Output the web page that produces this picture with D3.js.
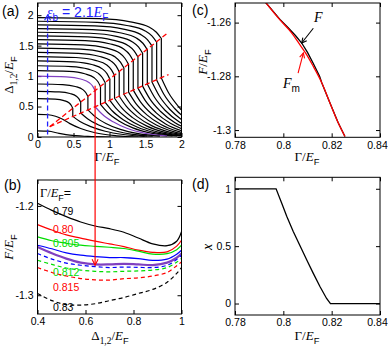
<!DOCTYPE html>
<html>
<head>
<meta charset="utf-8">
<script src="https://cdn.jsdelivr.net/npm/d3@7"></script>
<style>
  body { margin: 0; background: #fff; }
  svg { display: block; font-family: "Liberation Sans", Arial, sans-serif; }
  .tick text { font-size: 10.5px; fill: #000; }
  .tick line { stroke: #000; }
</style>
</head>
<body>
<svg id="fig" width="388" height="347"></svg>
<script>
// ---- panel (a): gap curves Delta_{1,2}/E_F vs Gamma/E_F
// upper branch of each curve (before the jump), [Gamma, Delta]
const upperA = [
  [[0,1.96],[0.86,1.943],[1.29,1.891],[1.548,1.806],[1.651,1.72],[1.72,1.617]],
  [[0,1.90],[0.828,1.883],[1.241,1.831],[1.49,1.745],[1.589,1.659],[1.655,1.556]],
  [[0,1.84],[0.795,1.823],[1.193,1.771],[1.431,1.685],[1.526,1.599],[1.59,1.496]],
  [[0,1.78],[0.763,1.763],[1.144,1.711],[1.373,1.625],[1.464,1.539],[1.525,1.435]],
  [[0,1.72],[0.73,1.703],[1.095,1.651],[1.314,1.564],[1.402,1.478],[1.46,1.374]],
  [[0,1.66],[0.698,1.643],[1.046,1.591],[1.256,1.504],[1.339,1.418],[1.395,1.314]],
  [[0,1.60],[0.665,1.583],[0.998,1.531],[1.197,1.444],[1.277,1.357],[1.33,1.253]],
  [[0,1.53],[0.633,1.513],[0.949,1.462],[1.139,1.378],[1.214,1.293],[1.265,1.192]],
  [[0,1.46],[0.60,1.444],[0.90,1.394],[1.08,1.312],[1.152,1.23],[1.20,1.132]],
  [[0,1.39],[0.568,1.374],[0.851,1.326],[1.022,1.246],[1.09,1.167],[1.135,1.071]],
  [[0,1.32],[0.535,1.305],[0.803,1.258],[0.963,1.181],[1.027,1.103],[1.07,1.01]],
  [[0,1.25],[0.503,1.235],[0.754,1.19],[0.905,1.115],[0.965,1.04],[1.005,0.95]],
  [[0,1.17],[0.47,1.156],[0.705,1.114],[0.846,1.044],[0.902,0.973],[0.94,0.889]],
  [[0,1.09],[0.438,1.077],[0.656,1.038],[0.788,0.972],[0.84,0.907],[0.875,0.828]],
  [[0,1.00],[0.40,0.988],[0.60,0.952],[0.72,0.891],[0.768,0.831],[0.80,0.758]],
  [[0,0.87],[0.35,0.86],[0.525,0.829],[0.63,0.778],[0.672,0.727],[0.70,0.665]],
  [[0,0.75],[0.30,0.741],[0.45,0.714],[0.54,0.67],[0.576,0.625],[0.60,0.572]],
  [[0,0.63],[0.245,0.622],[0.368,0.598],[0.441,0.558],[0.47,0.517],[0.49,0.469]],
  [[0,0.37],[0.15,0.365],[0.25,0.34],[0.35,0.29],[0.45,0.22],[0.6,0.14],[0.8,0.07],[1.1,0.02],[1.4,0]],
  [[0,0.10],[0.15,0.095],[0.3,0.06],[0.45,0.03],[0.7,0.01],[1.0,0]]
];
// lower branch after the jump (null = no jump)
const lowerA = [
  [[1.72,0.968],[1.82,0.726],[1.97,0.484],[2.17,0.271]],
  [[1.655,0.935],[1.755,0.701],[1.905,0.468],[2.105,0.262]],
  [[1.59,0.902],[1.69,0.677],[1.84,0.451],[2.04,0.253],[2.29,0.108]],
  [[1.525,0.869],[1.625,0.652],[1.775,0.435],[1.975,0.243],[2.225,0.104]],
  [[1.46,0.835],[1.56,0.626],[1.71,0.418],[1.91,0.234],[2.16,0.10]],
  [[1.395,0.802],[1.495,0.602],[1.645,0.401],[1.845,0.225],[2.095,0.096]],
  [[1.33,0.769],[1.43,0.577],[1.58,0.385],[1.78,0.215],[2.03,0.092]],
  [[1.265,0.736],[1.365,0.552],[1.515,0.368],[1.715,0.206],[1.965,0.088],[2.265,0.022]],
  [[1.2,0.702],[1.3,0.527],[1.45,0.351],[1.65,0.197],[1.9,0.084],[2.2,0.021]],
  [[1.135,0.669],[1.235,0.502],[1.385,0.335],[1.585,0.187],[1.835,0.08],[2.135,0.02]],
  [[1.07,0.636],[1.17,0.477],[1.32,0.318],[1.52,0.178],[1.77,0.076],[2.07,0.019]],
  [[1.005,0.602],[1.105,0.452],[1.255,0.301],[1.455,0.169],[1.705,0.072],[2.005,0.018]],
  [[0.94,0.569],[1.04,0.427],[1.19,0.285],[1.39,0.159],[1.64,0.068],[1.94,0.017]],
  [[0.875,0.536],[0.975,0.402],[1.125,0.268],[1.325,0.15],[1.575,0.064],[1.875,0.016]],
  [[0.8,0.497],[0.9,0.373],[1.05,0.249],[1.25,0.139],[1.5,0.06],[1.8,0.015]],
  [[0.7,0.446],[0.8,0.335],[0.95,0.223],[1.15,0.125],[1.4,0.054],[1.7,0.013]],
  [[0.6,0.395],[0.7,0.296],[0.85,0.198],[1.05,0.111],[1.3,0.047],[1.6,0.012]],
  [[0.49,0.339],[0.59,0.254],[0.74,0.17],[0.94,0.095],[1.19,0.041],[1.49,0.01]],
  null,
  null
];
const purpleCurve = 14;
const jumpUpperLine = [[0.17, 0.17], [1.82, 1.72]];
const jumpLowerLine = [[0.17, 0.17], [1.82, 1.025]];
const ebLine = [[0.14, 0.04], [0.14, 2.0]];
const ticksA = [0, 0.5, 1, 1.5, 2];

// ---- panel (b): F/E_F vs Delta_{1,2}/E_F
const deltaB = [0.40, 0.46, 0.52, 0.58, 0.64, 0.70, 0.76, 0.82, 0.88, 0.94, 0.98, 1.00];
const f079  = [-1.197, -1.205, -1.212, -1.218, -1.2225, -1.2255, -1.2295, -1.236, -1.2425, -1.2445, -1.2395, -1.229];
const f080  = [-1.221, -1.227, -1.2325, -1.236, -1.2395, -1.2425, -1.2455, -1.2495, -1.252, -1.2515, -1.245, -1.2384];
const f0805 = [-1.2347, -1.239, -1.2418, -1.244, -1.2452, -1.2463, -1.2477, -1.2507, -1.254, -1.2535, -1.249, -1.244];
const f0807 = [-1.244, -1.248, -1.2525, -1.2552, -1.2568, -1.2578, -1.2578, -1.259, -1.261, -1.2595, -1.254, -1.2496];
const f081  = [-1.246, -1.253, -1.259, -1.2635, -1.2655, -1.2655, -1.2648, -1.2655, -1.2662, -1.2635, -1.258, -1.2533];
const f0811 = [-1.2533, -1.2595, -1.264, -1.2664, -1.268, -1.269, -1.2685, -1.2688, -1.269, -1.2665, -1.26, -1.2552];
const f0812 = [-1.2608, -1.2655, -1.2695, -1.2718, -1.2732, -1.2738, -1.2732, -1.2728, -1.2718, -1.269, -1.263, -1.2589];
const f0815 = [-1.269, -1.2745, -1.2785, -1.2813, -1.2828, -1.283, -1.2815, -1.2805, -1.2785, -1.2745, -1.267, -1.2627];
const f083  = [-1.298, -1.306, -1.3105, -1.311, -1.3095, -1.306, -1.3025, -1.298, -1.2935, -1.2855, -1.2755, -1.269];
const seriesB = [f079, f080, f0805, f0807, f081, f0811, f0812, f0815, f083];
const colorsB = ["#000", "#ff0000", "#00dd00", "#0000ff", "#8040c0", "#0000ff", "#00dd00", "#ff0000", "#000"];
const dashedB = [false, false, false, false, false, true, true, true, true];
const labelsB = ["0.79", "0.80", "0.805", "0.812", "0.815", "0.83"];
const labelColorsB = ["#000", "#ff0000", "#00dd00", "#00dd00", "#ff0000", "#000"];
const ticksBx = [0.4, 0.6, 0.8, 1];
const ticksBy = [-1.2, -1.3];
// marker: Gamma = 0.80 picked in (a), minimum of F in (b)
const marker = { gamma: 0.80, deltaTop: 0.84, delta: 0.64, f: -1.2664 };

// ---- panel (c): F and F_m vs Gamma
const gammaFm = [0.7924, 0.7986, 0.8035, 0.8069, 0.8097, 0.8124, 0.8159, 0.8193, 0.8227, 0.8255];
const valFm   = [-1.2522, -1.259, -1.2639, -1.2683, -1.272, -1.2763, -1.2824, -1.2899, -1.2973, -1.3024];
const gammaF  = [0.7924, 0.7986, 0.802, 0.805, 0.8076, 0.810, 0.8124, 0.815, 0.8159, 0.8193, 0.8227, 0.8255];
const valF    = [-1.2522, -1.2588, -1.2619, -1.2648, -1.2676, -1.2711, -1.2752, -1.2800, -1.2824, -1.2899, -1.2973, -1.3024];
const arrowF  = [[0.8124, -1.2621], [0.8076, -1.2676]];
const arrowFm = [[0.8061, -1.2788], [0.8083, -1.2713]];
const ticksCx = [0.78, 0.8, 0.82, 0.84];
const ticksCy = [-1.26, -1.28, -1.3];

// ---- panel (d): x vs Gamma
const gammaD = [0.78, 0.797, 0.7993, 0.8014, 0.8041, 0.8069, 0.8097, 0.8124, 0.8152, 0.8179, 0.8195, 0.84];
const valD   = [1, 1, 0.877, 0.76, 0.628, 0.503, 0.38, 0.263, 0.146, 0.044, 0, 0];
const ticksDy = [0, 0.5, 1];

const svg = d3.select("#fig");
const SERIF = "'Liberation Serif','Times New Roman',serif";
let clipN = 0;

function panel(box, xd, yd, xt, yt) {
  const x = d3.scaleLinear().domain(xd).range([box.l, box.r]);
  const y = d3.scaleLinear().domain(yd).range([box.b, box.t]);
  const g = svg.append("g");
  const id = "clip" + (++clipN);
  svg.append("clipPath").attr("id", id).append("rect")
    .attr("x", box.l).attr("y", box.t)
    .attr("width", box.r - box.l).attr("height", box.b - box.t);
  const fmt = d => String(d);
  g.append("g").attr("class", "xax").attr("transform", `translate(0,${box.b})`)
    .call(d3.axisBottom(x).tickValues(xt).tickSize(-4).tickPadding(4).tickFormat(fmt));
  g.append("g").attr("transform", `translate(0,${box.t})`)
    .call(d3.axisTop(x).tickValues(xt).tickSize(-4).tickFormat(""));
  g.append("g").attr("transform", `translate(${box.l},0)`)
    .call(d3.axisLeft(y).tickValues(yt).tickSize(-4).tickPadding(4).tickFormat(fmt));
  g.append("g").attr("transform", `translate(${box.r},0)`)
    .call(d3.axisRight(y).tickValues(yt).tickSize(-4).tickFormat(""));
  g.selectAll(".domain").remove();
  g.selectAll(".tick text").attr("font-family", null);
  const plot = g.append("g").attr("clip-path", `url(#${id})`);
  const over = g.append("g");
  g.append("rect").attr("x", box.l).attr("y", box.t)
    .attr("width", box.r - box.l).attr("height", box.b - box.t)
    .attr("fill", "none").attr("stroke", "#000").attr("stroke-width", 1);
  return { x, y, plot, over, g };
}

function rich(parent, x, y, parts, o = {}) {
  const size = o.size || 13;
  const t = parent.append("text").attr("x", x).attr("y", y)
    .attr("font-size", size).attr("fill", o.color || "#000")
    .attr("text-anchor", o.anchor || "start");
  if (o.rotate) t.attr("transform", `rotate(-90,${x},${y})`);
  let shifted = 0;
  parts.forEach(p => {
    const s = t.append("tspan").text(p.t);
    if (p.serif) s.attr("font-family", SERIF);
    if (p.it) s.attr("font-style", "italic");
    const want = p.sub ? 0.3 * size : 0;
    if (want !== shifted) { s.attr("dy", want - shifted); shifted = want; }
    if (p.sub) s.attr("font-size", 0.72 * size);
  });
  return t;
}

function arrowHead(parent, from, to, color, len = 6, half = 2.8) {
  const dx = to[0] - from[0], dy = to[1] - from[1];
  const L = Math.hypot(dx, dy), ux = dx / L, uy = dy / L;
  const bx = to[0] - ux * len, by = to[1] - uy * len;
  parent.append("path")
    .attr("d", `M${bx - uy * half},${by + ux * half}L${to[0]},${to[1]}L${bx + uy * half},${by - ux * half}`)
    .attr("fill", "none").attr("stroke", color).attr("stroke-width", 1.1);
}

const gammaLabel = [{ t: "Γ/", serif: 1 }, { t: "E", serif: 1, it: 1 }, { t: "F", sub: 1 }];
const deltaLabel = [{ t: "Δ", serif: 1 }, { t: "1,2", serif: 1, sub: 1 }, { t: "/", serif: 1 }, { t: "E", serif: 1, it: 1 }, { t: "F", sub: 1 }];
const fLabel = [{ t: "F", serif: 1, it: 1 }, { t: "/", serif: 1 }, { t: "E", serif: 1, it: 1 }, { t: "F", sub: 1 }];

// ================= panel (a)
const pa = panel({ l: 37.5, r: 181.5, t: 3, b: 137 }, [0, 2], [0, 2.2], ticksA, ticksA);
const lineA = d3.line().x(d => pa.x(d[0])).y(d => pa.y(d[1])).curve(d3.curveMonotoneX);
upperA.forEach((up, i) => {
  let d = lineA(up);
  if (lowerA[i]) d += lineA(lowerA[i]).replace(/^M/, "L");
  pa.plot.append("path").attr("d", d).attr("fill", "none")
    .attr("stroke", i === purpleCurve ? "#8040c0" : "#000")
    .attr("stroke-width", 1.2);
});
const straightA = d3.line().x(d => pa.x(d[0])).y(d => pa.y(d[1]));
[jumpUpperLine, jumpLowerLine].forEach(l => {
  pa.plot.append("path").attr("d", straightA(l)).attr("fill", "none")
    .attr("stroke", "#ff0000").attr("stroke-width", 1.3).attr("stroke-dasharray", "5,3");
});
pa.plot.append("path").attr("d", straightA(ebLine)).attr("fill", "none")
  .attr("stroke", "#2020ff").attr("stroke-width", 1.3).attr("stroke-dasharray", "5,3");
arrowHead(pa.over, [pa.x(ebLine[0][0]), pa.y(ebLine[0][1])], [pa.x(ebLine[1][0]), pa.y(ebLine[1][1])], "#2020ff", 5, 3);
rich(pa.over, 47, 17, [{ t: "ε", serif: 1, it: 1 }, { t: "b", sub: 1 }, { t: " = 2.1" }, { t: "E", serif: 1, it: 1 }, { t: "F", sub: 1 }], { size: 14, color: "#2020ff" });
rich(svg, 107, 161, gammaLabel, { anchor: "middle" });
rich(svg, 13, 75, deltaLabel, { anchor: "middle", rotate: true });
svg.append("text").attr("x", 2).attr("y", 16).attr("font-size", 14).text("(a)");

// ================= panel (b)
const pb = panel({ l: 37.5, r: 181.5, t: 180, b: 314 }, [0.4, 1], [-1.321, -1.171], ticksBx, ticksBy);
const lineB = d3.line().x((d, i) => pb.x(deltaB[i])).y(d => pb.y(d)).curve(d3.curveCatmullRom);
const labelY = [215, 233, 246.5, 276, 291, 311];
labelsB.forEach((t, i) => {
  pb.plot.append("text").attr("x", 53).attr("y", labelY[i]).attr("font-size", 10.5)
    .attr("fill", labelColorsB[i]).text(t);
});
seriesB.forEach((s, i) => {
  pb.plot.append("path").attr("d", lineB(s)).attr("fill", "none")
    .attr("stroke", colorsB[i]).attr("stroke-width", i === 4 ? 2.2 : 1.2)
    .attr("stroke-dasharray", dashedB[i] ? "4,3" : null);
});
rich(pb.over, 40, 197, [{ t: "Γ/", serif: 1 }, { t: "E", serif: 1, it: 1 }, { t: "F", sub: 1 }, { t: "=" }], { size: 12.5 });
rich(svg, 110, 340, deltaLabel, { anchor: "middle" });
rich(svg, 13, 247, fLabel, { anchor: "middle", rotate: true });
svg.append("text").attr("x", 4).attr("y", 190).attr("font-size", 14).text("(b)");

// red marker line linking (a) and (b)
const mTop = [pa.x(marker.gamma), pa.y(marker.deltaTop)];
const mBot = [pb.x(marker.delta), pb.y(marker.f)];
svg.append("line").attr("x1", mTop[0]).attr("y1", mTop[1]).attr("x2", mBot[0]).attr("y2", mBot[1])
  .attr("stroke", "#ff0000").attr("stroke-width", 1.2);
arrowHead(svg, mTop, mBot, "#ff0000", 6, 3);

// ================= panel (c)
const pc = panel({ l: 235, r: 380, t: 3, b: 137.3 }, [0.78, 0.84], [-1.3027, -1.2527], ticksCx, ticksCy);
const lineF = d3.line().x((d, i) => pc.x(gammaF[i])).y(d => pc.y(d));
const lineFm = d3.line().x((d, i) => pc.x(gammaFm[i])).y(d => pc.y(d)).curve(d3.curveMonotoneX);
pc.plot.append("path").attr("d", lineF(valF)).attr("fill", "none").attr("stroke", "#000").attr("stroke-width", 1.3);
pc.plot.append("path").attr("d", lineFm(valFm)).attr("fill", "none").attr("stroke", "#ff0000").attr("stroke-width", 1.3);
[[arrowF, "#000"], [arrowFm, "#ff0000"]].forEach(([a, c]) => {
  const p0 = [pc.x(a[0][0]), pc.y(a[0][1])], p1 = [pc.x(a[1][0]), pc.y(a[1][1])];
  pc.over.append("line").attr("x1", p0[0]).attr("y1", p0[1]).attr("x2", p1[0]).attr("y2", p1[1])
    .attr("stroke", c).attr("stroke-width", 1.1);
  arrowHead(pc.over, p0, p1, c, 5, 2.5);
});
rich(pc.over, 314, 22, [{ t: "F", serif: 1, it: 1 }], { size: 14 });
rich(pc.over, 283, 88, [{ t: "F", serif: 1, it: 1 }, { t: "m", sub: 1 }], { size: 14 });
rich(svg, 307, 161, gammaLabel, { anchor: "middle" });
rich(svg, 207, 62, fLabel, { anchor: "middle", rotate: true });
svg.append("text").attr("x", 192).attr("y", 15).attr("font-size", 14).text("(c)");

// ================= panel (d)
const pd = panel({ l: 235, r: 380, t: 177.3, b: 315 }, [0.78, 0.84], [-0.1, 1.1], ticksCx, ticksDy);
const lineD = d3.line().x((d, i) => pd.x(gammaD[i])).y(d => pd.y(d));
pd.plot.append("path").attr("d", lineD(valD)).attr("fill", "none").attr("stroke", "#000").attr("stroke-width", 1.3);
rich(svg, 307, 340, gammaLabel, { anchor: "middle" });
rich(svg, 212, 247, [{ t: "x", serif: 1, it: 1 }], { anchor: "middle", rotate: true, size: 14 });
svg.append("text").attr("x", 192).attr("y", 189).attr("font-size", 14).text("(d)");

// keep the last x tick label of (c) and (d) inside the picture
[pc, pd].forEach(p => {
  p.g.selectAll(".xax .tick text").filter(d => d === 0.84).attr("dx", -3);
});
</script>
</body>
</html>
